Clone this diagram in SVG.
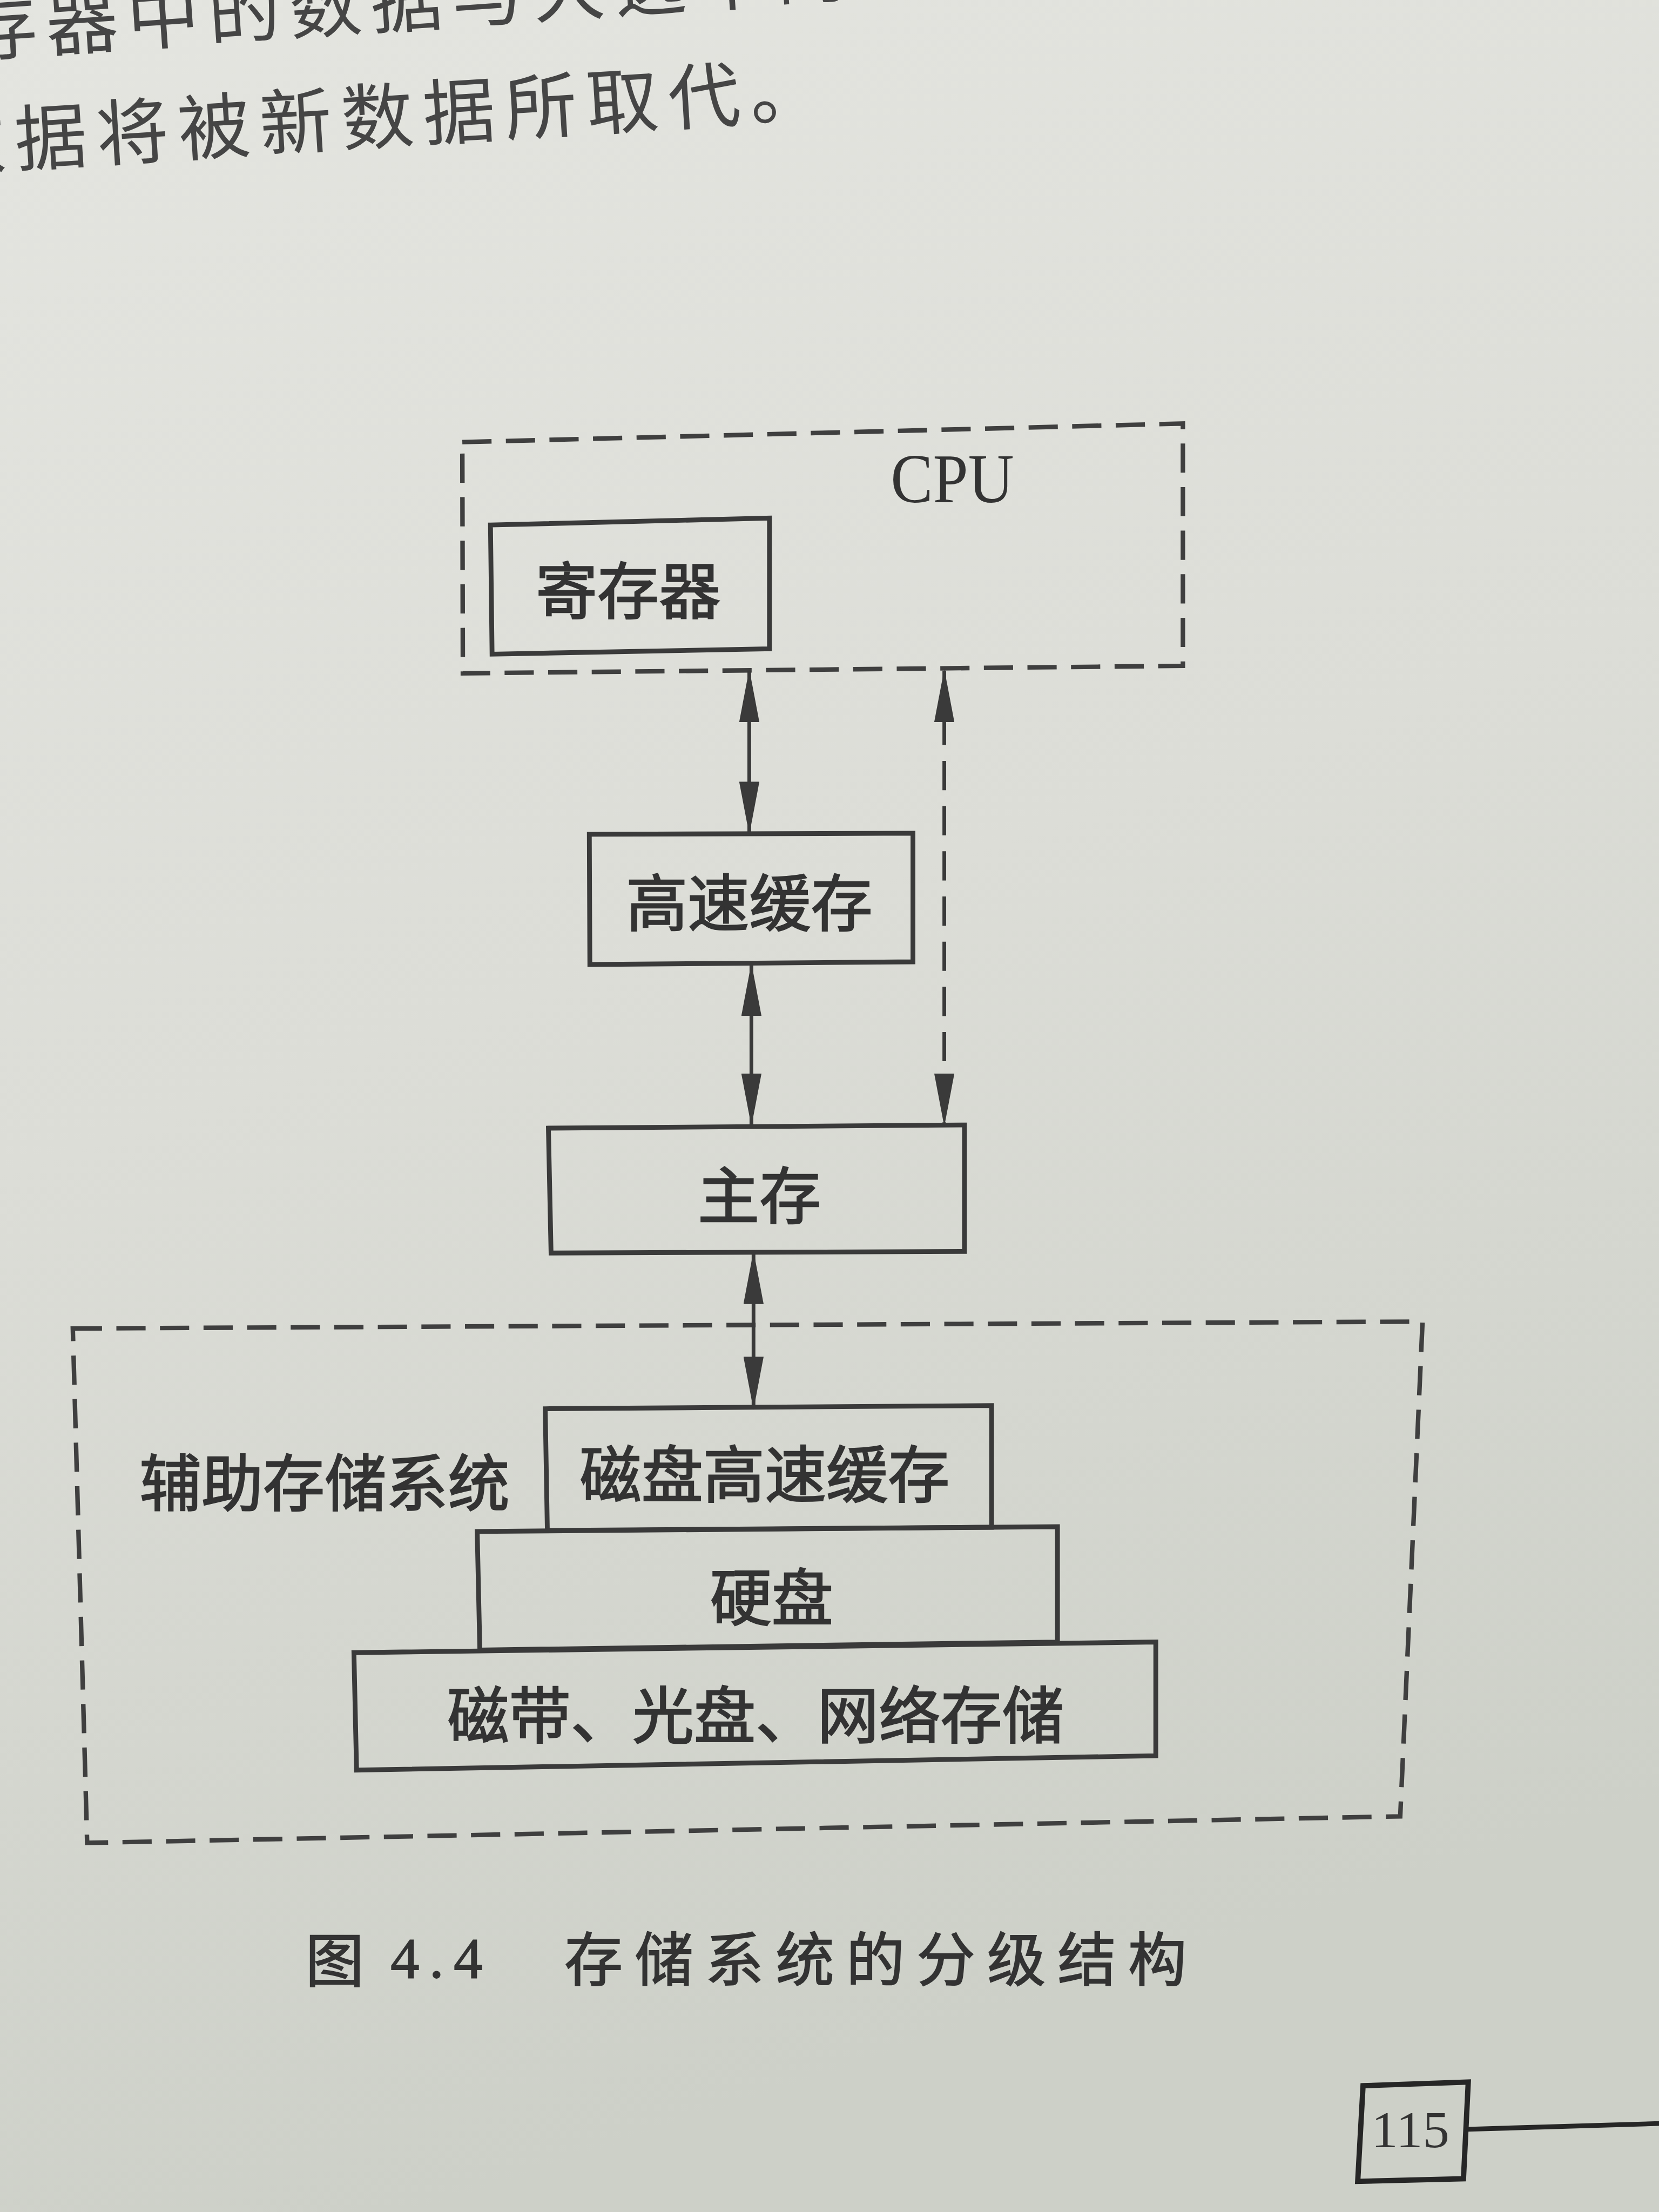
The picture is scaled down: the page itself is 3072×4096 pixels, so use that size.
<svg xmlns="http://www.w3.org/2000/svg" width="3072" height="4096" viewBox="0 0 3072 4096">
  <defs>
    <linearGradient id="paper" x1="0" y1="0" x2="0.25" y2="1">
      <stop offset="0" stop-color="#e4e5e0"/>
      <stop offset="0.5" stop-color="#dcddd7"/>
      <stop offset="1" stop-color="#cdd0c8"/>
    </linearGradient>
    <marker id="ah" viewBox="0 0 100 38" refX="97" refY="19" markerWidth="100" markerHeight="38" markerUnits="userSpaceOnUse" orient="auto-start-reverse">
      <path d="M0,0 L100,19 L0,38 Z" fill="#3a3a3a"/>
    </marker>
    <style>
      .box { fill: none; stroke: #3a3a3a; stroke-width: 9; stroke-linejoin: miter; }
      .dbox { fill: none; stroke: #3f3f3f; stroke-width: 8.5; stroke-dasharray: 55 27; }
      .conn { fill: none; stroke: #3a3a3a; stroke-width: 7; }
      .dconn { fill: none; stroke: #3a3a3a; stroke-width: 7; stroke-dasharray: 55 30; }
      .cjk { font-family: "Noto Sans CJK SC", "Noto Sans", sans-serif; fill: #333333; text-anchor: middle; dominant-baseline: central; }
      .lbl { font-size: 116px; stroke: #333333; stroke-width: 2.5; }
      .cap { stroke: #333333; stroke-width: 2; }
      .serif { font-family: "Liberation Serif", "DejaVu Serif", serif; fill: #333333; }
      .body { font-family: "Noto Sans CJK SC", "Noto Sans", sans-serif; fill: #454545; font-size: 136px; }
    </style>
  </defs>
  <rect x="0" y="0" width="3072" height="4096" fill="url(#paper)"/>
  <g transform="scale(0.984)">
    <!-- body text at top of page (cut by the page edge, as in the photo) -->
    <g id="page-text">
      <text class="body" x="-63" y="106" letter-spacing="17" transform="rotate(-3.9 -63 106)">存器中的数据与大选中的</text>
      <text class="body" x="-123" y="322" letter-spacing="18" transform="rotate(-3.6 -123 322)">数据将被新数据所取代。</text>
    </g>

    <!-- CPU container -->
    <g id="cpu">
      <path class="dbox" d="M870,832 L2226,797 L2226,1253 L871,1267 Z"/>
      <text class="serif" x="1792" y="945" font-size="132" text-anchor="middle" textLength="232" lengthAdjust="spacingAndGlyphs">CPU</text>
    </g>
    <g id="register">
      <path class="box" d="M923,988 L1448,975 L1448,1221 L926,1231 Z"/>
      <text class="cjk lbl" x="1182" y="1104">寄存器</text>
    </g>
    <g id="cache">
      <path class="box" d="M1109,1570 L1718,1568 L1718,1810 L1110,1815 Z"/>
      <text class="cjk lbl" x="1410" y="1692">高速缓存</text>
    </g>
    <g id="main-memory">
      <path class="box" d="M1032,2123 L1815,2117 L1815,2355 L1037,2358 Z"/>
      <text class="cjk lbl" x="1429" y="2242">主存</text>
    </g>

    <!-- auxiliary storage container -->
    <g id="aux-storage">
      <path class="dbox" d="M137,2500 L2677,2487 L2635,3418 L164,3468 Z"/>
      <text class="cjk lbl" x="611" y="2783">辅助存储系统</text>
    </g>
    <g id="disk-cache">
      <path class="box" d="M1026,2651 L1866,2645 L1866,2874 L1030,2880 Z"/>
      <text class="cjk lbl" x="1439" y="2767">磁盘高速缓存</text>
    </g>
    <g id="hard-disk">
      <path class="box" d="M898,2882 L1990,2873 L1990,3090 L903,3105 Z"/>
      <text class="cjk lbl" x="1452" y="2998">硬盘</text>
    </g>
    <g id="tape-optical-network">
      <path class="box" d="M666,3110 L2175,3090 L2175,3304 L671,3331 Z"/>
      <text class="cjk lbl" x="1422" y="3220">磁带、光盘、网络存储</text>
    </g>

    <!-- connectors -->
    <g id="connectors">
      <path class="conn" d="M1410,1262 L1410,1568" marker-start="url(#ah)" marker-end="url(#ah)"/>
      <path class="dconn" d="M1777,1262 L1777,2117" marker-start="url(#ah)" marker-end="url(#ah)"/>
      <path class="conn" d="M1414,1815 L1414,2117" marker-start="url(#ah)" marker-end="url(#ah)"/>
      <path class="conn" d="M1418,2357 L1418,2650" marker-start="url(#ah)" marker-end="url(#ah)"/>
    </g>

    <!-- caption -->
    <g id="caption">
      <text class="cjk cap" font-size="110" style="text-anchor:start" x="575" y="3681">图</text>
      <text class="serif cap" font-size="108" x="735" y="3722" textLength="173" lengthAdjust="spacing">4.4</text>
      <text class="cjk cap" font-size="110" style="text-anchor:start" x="1062" y="3679" textLength="1171" lengthAdjust="spacing">存储系统的分级结构</text>
    </g>

    <!-- page number -->
    <g id="page-number">
      <path d="M2565,3925 L2763,3918 L2754,4100 L2555,4105 Z" fill="none" stroke="#262626" stroke-width="10"/>
      <path d="M2760,4007 L3125,3996" fill="none" stroke="#262626" stroke-width="9"/>
      <text class="serif" x="2654" y="4041" font-size="96" text-anchor="middle" textLength="147" lengthAdjust="spacingAndGlyphs" fill="#262626">115</text>
    </g>
  </g>
</svg>
